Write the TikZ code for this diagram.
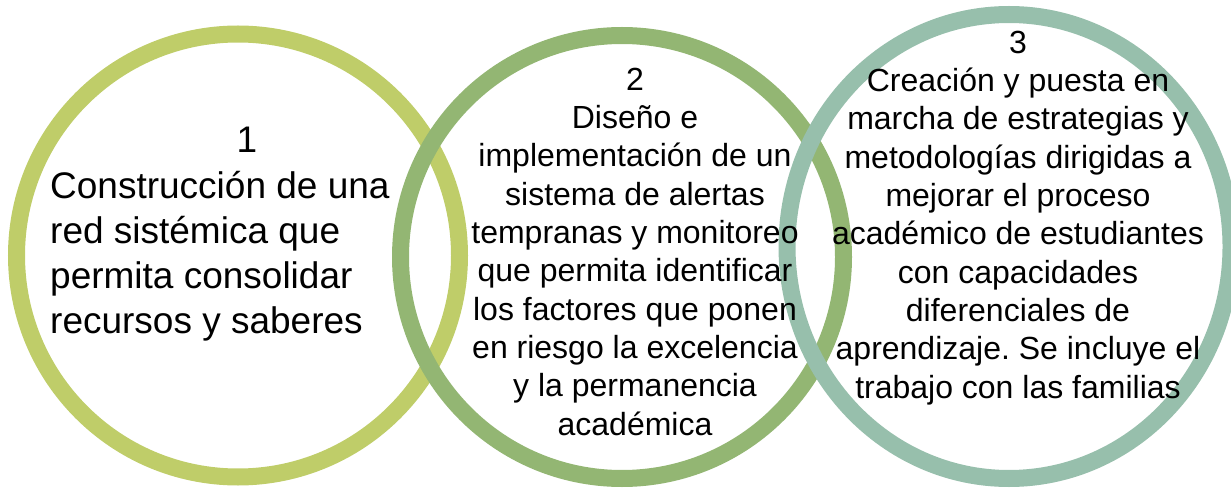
\documentclass[tikz,border=0pt]{standalone}
\usepackage{fontspec}
\setmainfont{Liberation Sans}
\frenchspacing
\usetikzlibrary{shapes.geometric}
\definecolor{ringA}{RGB}{191,205,105}
\definecolor{ringB}{RGB}{147,182,115}
\definecolor{ringC}{RGB}{151,191,172}
\tikzset{
  ring/.style={draw, line width=17pt, inner sep=0pt, fill=none},
  bigtext/.style={inner sep=0pt, font=\fontsize{37}{45}\selectfont},
  smalltext/.style={inner sep=0pt, align=center, font=\fontsize{32}{38.3}\selectfont}
}
\begin{document}
\begin{tikzpicture}[x=1pt,y=-1pt]
\useasboundingbox (0,0) rectangle (1231,489);
\node[ring, circle, draw=ringA, minimum size=443pt] (c1) at (238,255.5) {};
\node[ring, circle, draw=ringB, minimum size=443pt] (c2) at (622,257) {};
\node[ring, ellipse, draw=ringC, minimum width=444pt, minimum height=464pt] (c3) at (1009,246.5) {};
\node[bigtext, anchor=base] (n1) at (247,153) {1};
\node[bigtext, anchor=base west, align=left] (t1) at (50,333) {Construcción de una\\red sistémica que\\permita consolidar\\recursos y saberes};
\node[smalltext, anchor=base] (t2) at (635,435) {2\\Diseño e\\implementación de un\\sistema de alertas\\tempranas y monitoreo\\que permita identificar\\los factores que ponen\\en riesgo la excelencia\\y la permanencia\\académica};
\node[smalltext, anchor=base] (t3) at (1018,398) {3\\Creación y puesta en\\marcha de estrategias y\\metodologías dirigidas a\\mejorar el proceso\\académico de estudiantes\\con capacidades\\diferenciales de\\aprendizaje. Se incluye el\\trabajo con las familias};
\end{tikzpicture}
\end{document}
